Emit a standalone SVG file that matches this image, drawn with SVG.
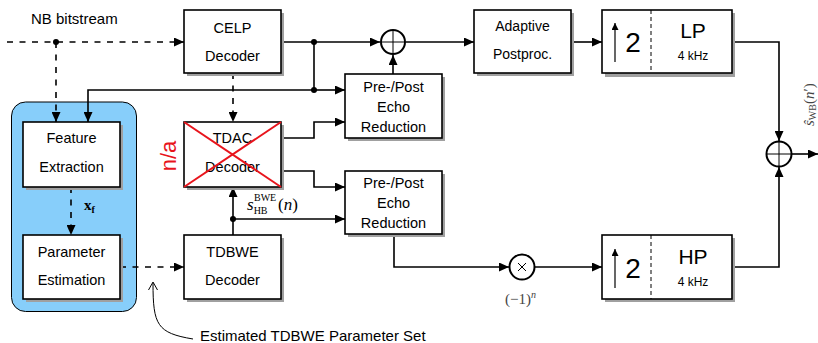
<svg xmlns="http://www.w3.org/2000/svg" width="818" height="343" viewBox="0 0 818 343">
<defs>
<marker id="ah" markerUnits="userSpaceOnUse" markerWidth="10" markerHeight="9" refX="10" refY="4.5" orient="auto">
<path d="M0,0 L10,4.5 L0,9 z" fill="#000"/>
</marker>
<marker id="ahs" markerUnits="userSpaceOnUse" markerWidth="7" markerHeight="7" refX="7" refY="3.5" orient="auto">
<path d="M0,0 L7,3.5 L0,7 z" fill="#000"/>
</marker>
<style>
.box{fill:#fff;stroke:#000;stroke-width:1.6}
.sh{fill:#a0a0a0}
.t{font-family:"Liberation Sans",Arial,sans-serif;font-size:14.5px;fill:#000;text-anchor:middle}
.c{fill:none;stroke:#000;stroke-width:1.6}
.a{marker-end:url(#ah)}
.d{stroke-dasharray:6 6.5}
.dot{fill:#000}
.circ{fill:#fff;stroke:#000;stroke-width:2}
.m{font-family:"Liberation Serif","Times New Roman",serif}
</style>
</defs>

<rect x="11.5" y="102" width="125" height="209.5" rx="14" fill="#87cefa" stroke="#000" stroke-width="1"/>

<g id="connectors">
<path class="c d a" d="M7,42 H184"/>
<path class="c d a" d="M56,42 V122"/>
<path class="c a" d="M281,42 H380"/>
<path class="c" d="M314,42 V90"/>
<path class="c a" d="M314,90 H345"/>
<path class="c a" d="M314,90 H88 V122"/>
<path class="c d a" d="M233,73 V122"/>
<path class="c a" d="M281,138 H314 V122 H345"/>
<path class="c a" d="M281,171 H314 V187 H345"/>
<path class="c a" d="M233,235 V187"/>
<path class="c a" d="M233,219 H345"/>
<path class="c a" d="M393,74 V55"/>
<path class="c a" d="M406,42 H474"/>
<path class="c a" d="M571,42 H602"/>
<path class="c a" d="M732,42 H779 V141"/>
<path class="c a" d="M732,267 H779 V167"/>
<path class="c a" d="M792,154 H818"/>
<path class="c a" d="M394,234 V267 H509"/>
<path class="c a" d="M535,267 H602"/>
<path class="c d a" d="M71,187 V235"/>
<path class="c d a" d="M120,267 H184"/>
<path d="M153,283 C153,325 157,333 193,339" fill="none" stroke="#000" stroke-width="1"/>
<path d="M148.5,290 L153,282 L157.5,290" fill="none" stroke="#000" stroke-width="1"/>
<circle class="dot" cx="56" cy="42" r="3"/>
<circle class="dot" cx="314" cy="42" r="3"/>
<circle class="dot" cx="314" cy="90" r="3"/>
<circle class="dot" cx="233" cy="219" r="3"/>
</g>

<text class="t" x="31" y="24" style="text-anchor:start;font-size:15px">NB bitstream</text>

<g id="celp">
<rect class="sh" x="187" y="13" width="97" height="63"/>
<rect class="box" x="184" y="10" width="97" height="63"/>
<text class="t" x="232.5" y="33">CELP</text>
<text class="t" x="232.5" y="61">Decoder</text>
</g>

<g id="adaptive">
<rect class="sh" x="477" y="13" width="97" height="63"/>
<rect class="box" x="474" y="10" width="97" height="63"/>
<text class="t" x="522.5" y="31" style="font-size:14px">Adaptive</text>
<text class="t" x="522.5" y="59" style="font-size:14px">Postproc.</text>
</g>

<g id="lp">
<rect class="sh" x="605" y="13" width="130" height="64"/>
<rect class="box" x="602" y="10" width="130" height="63"/>
<line x1="651" y1="10" x2="651" y2="73" stroke="#000" stroke-width="1" stroke-dasharray="4 3"/>
<line x1="615" y1="62" x2="615" y2="23" stroke="#000" stroke-width="1.2" marker-end="url(#ahs)"/>
<text class="t" x="633" y="52" style="font-size:28px">2</text>
<text class="t" x="693" y="38" style="font-size:21px">LP</text>
<text class="t" x="693" y="60" style="font-size:12px">4 kHz</text>
</g>

<g id="hp">
<rect class="sh" x="605" y="238" width="130" height="64"/>
<rect class="box" x="602" y="235" width="130" height="64"/>
<line x1="651" y1="235" x2="651" y2="299" stroke="#000" stroke-width="1" stroke-dasharray="4 3"/>
<line x1="615" y1="288" x2="615" y2="249" stroke="#000" stroke-width="1.2" marker-end="url(#ahs)"/>
<text class="t" x="633" y="278" style="font-size:28px">2</text>
<text class="t" x="693" y="264" style="font-size:21px">HP</text>
<text class="t" x="693" y="286" style="font-size:12px">4 kHz</text>
</g>

<g id="feature">
<rect class="sh" x="26" y="125" width="97" height="65"/>
<rect class="box" x="23" y="122" width="97" height="65"/>
<text class="t" x="71.5" y="143">Feature</text>
<text class="t" x="71.5" y="172">Extraction</text>
</g>

<g id="param">
<rect class="sh" x="26" y="238" width="97" height="64"/>
<rect class="box" x="23" y="235" width="97" height="64"/>
<text class="t" x="71.5" y="257">Parameter</text>
<text class="t" x="71.5" y="285">Estimation</text>
</g>

<text class="m" x="84" y="210" style="font-size:15px;font-weight:bold">x<tspan dy="3" style="font-size:10px">f</tspan></text>

<g id="tdac">
<rect class="sh" x="187" y="125" width="97" height="65"/>
<rect class="box" x="184" y="122" width="97" height="65"/>
<text class="t" x="232.5" y="143">TDAC</text>
<text class="t" x="232.5" y="172">Decoder</text>
<line x1="184" y1="122" x2="281" y2="187" stroke="#e8141c" stroke-width="2"/>
<line x1="184" y1="187" x2="281" y2="122" stroke="#e8141c" stroke-width="2"/>
<text x="176" y="156" transform="rotate(-90 176 156)" style="font-family:'Liberation Sans',Arial,sans-serif;font-size:22px;fill:#e8141c;text-anchor:middle">n/a</text>
</g>

<g id="tdbwe">
<rect class="sh" x="187" y="238" width="97" height="64"/>
<rect class="box" x="184" y="235" width="97" height="64"/>
<text class="t" x="232.5" y="257">TDBWE</text>
<text class="t" x="232.5" y="285">Decoder</text>
</g>

<text class="m" x="247" y="210" style="font-size:17px;font-style:italic">s<tspan dy="3.5" style="font-size:10px;font-style:normal">HB</tspan></text>
<text class="m" x="254" y="201" style="font-size:10px">BWE</text>
<text class="m" x="278" y="210" style="font-size:17px">(<tspan style="font-style:italic">n</tspan>)</text>

<g id="ppe1">
<rect class="sh" x="348" y="77" width="97" height="64"/>
<rect class="box" x="345" y="74" width="97" height="64"/>
<text class="t" x="393.5" y="92">Pre-/Post</text>
<text class="t" x="393.5" y="112">Echo</text>
<text class="t" x="393.5" y="132">Reduction</text>
</g>

<g id="ppe2">
<rect class="sh" x="348" y="174" width="97" height="63"/>
<rect class="box" x="345" y="171" width="97" height="63"/>
<text class="t" x="393.5" y="188">Pre-/Post</text>
<text class="t" x="393.5" y="208">Echo</text>
<text class="t" x="393.5" y="228">Reduction</text>
</g>

<g id="sum1">
<circle class="circ" cx="393" cy="42" r="12"/>
<path d="M381,42 H405 M393,30 V54" stroke="#000" stroke-width="1"/>
</g>

<g id="sum2">
<circle class="circ" cx="779" cy="154" r="12.5"/>
<path d="M766.5,154 H791.5 M779,141.5 V166.5" stroke="#000" stroke-width="1"/>
</g>

<g id="mult">
<circle class="circ" cx="522" cy="267" r="12.5"/>
<path d="M518,263 L526,271 M526,263 L518,271" stroke="#000" stroke-width="1"/>
</g>

<text class="m" x="505" y="304" style="font-size:15px;fill:#444">(−1)<tspan dy="-6" style="font-size:10px;font-style:italic">n</tspan></text>

<text class="m" x="814" y="126" transform="rotate(-90 814 126)" style="font-size:15px;fill:#444"><tspan style="font-style:italic">ŝ</tspan><tspan dy="2" style="font-size:10px">WB</tspan><tspan dy="-2">(</tspan><tspan style="font-style:italic">n</tspan>′)</text>

<text class="t" x="200" y="341" style="text-anchor:start;font-size:15px">Estimated TDBWE Parameter Set</text>
</svg>
